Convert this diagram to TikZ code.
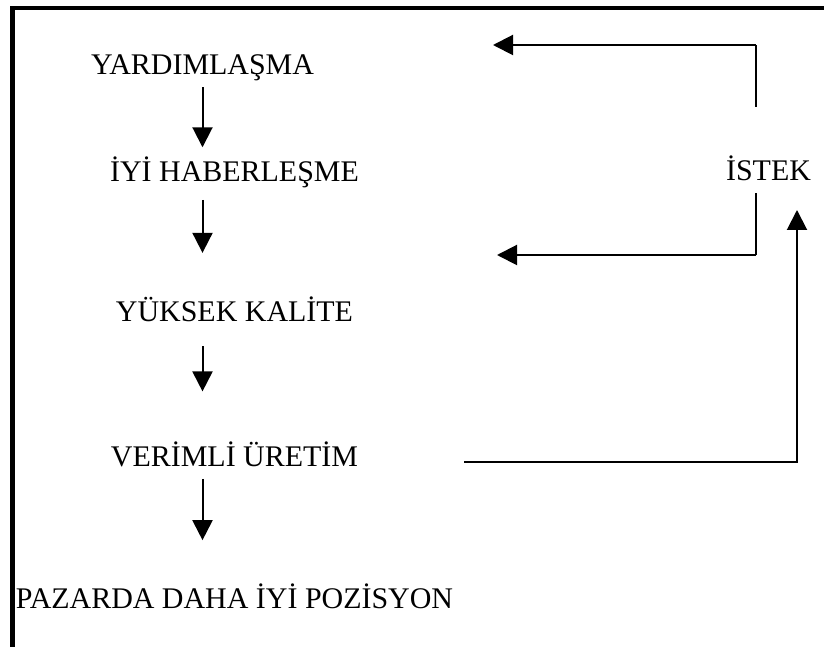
\documentclass[tikz,border=0pt]{standalone}
\usepackage{fontspec}
\setmainfont{Liberation Serif}
\usetikzlibrary{arrows.meta, positioning}
\tikzset{
    stage/.style={font=\fontsize{21.3}{25}\selectfont, inner sep=0pt, text height=0.49cm, text depth=0pt},
    arrow/.style={-{Triangle[length=0.5cm, width=0.5cm]}, line width=0.05cm, color=black},
    link/.style={line width=0.05cm, color=black},
    frame/.style={line width=0.1cm, color=black}
}
\begin{document}
\begin{tikzpicture}
    \useasboundingbox (0,0) rectangle (20.6,-16.175);

    % Frame (top and left edges)
    \draw [frame] (0.3125,-16.4) -- (0.3125,-0.2) -- (20.8,-0.2);

    % Left column (top to bottom)
    \node (yard) [stage] at (5.0625,-1.6125) {YARDIMLAŞMA};
    \node (iyi)  [stage, below=2.1725cm of yard, xshift=0.8cm] {İYİ HABERLEŞME};
    \node (yuk)  [stage, below=3.01cm of iyi] {YÜKSEK KALİTE};
    \node (ver)  [stage, below=3.11cm of yuk] {VERİMLİ ÜRETİM};
    \node (paz)  [stage, below=3.035cm of ver] {PAZARDA DAHA İYİ POZİSYON};

    % Right side
    \node (istek) [stage] at (19.2125,-4.275) {İSTEK};
    \coordinate (tipA) at (12.325,-1.125);
    \coordinate (tipB) at (12.425,-6.375);
    \coordinate (tipC) at (19.925,-5.25);

    % Arrows
    \draw [arrow, shorten <=0.32cm, shorten >=0.355cm] (yard.south) -- (yard.south |- iyi.north);
    \draw [arrow, shorten <=0.455cm, shorten >=1.23cm] (yard.south |- iyi.south) -- (yard.south |- yuk.north);
    \draw [arrow, shorten <=0.6cm, shorten >=1.38cm] (yard.south |- yuk.south) -- (yard.south |- ver.north);
    \draw [arrow, shorten <=0.305cm, shorten >=1.2cm] (yard.south |- ver.south) -- (yard.south |- paz.north);

    % Feedback loop
    \draw [link] ([xshift=-0.3125cm, yshift=1.355cm]istek.north) -- ([xshift=-0.3125cm]istek.north |- tipA);
    \draw [arrow] ([xshift=-0.3125cm]istek.north |- tipA) -- (tipA);
    \draw [link] ([xshift=-0.3125cm, yshift=-0.305cm]istek.south) -- ([xshift=-0.3125cm]istek.south |- tipB);
    \draw [arrow] ([xshift=-0.3125cm]istek.south |- tipB) -- (tipB);
    \draw [arrow] ([xshift=2.65cm, yshift=-0.125cm]ver.east) -| (tipC);

\end{tikzpicture}
\end{document}
